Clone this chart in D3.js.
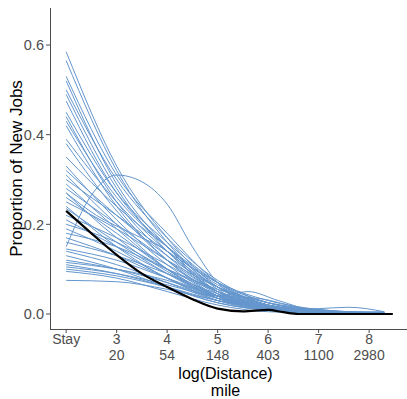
<!DOCTYPE html>
<html>
<head>
<meta charset="utf-8">
<script src="https://cdn.jsdelivr.net/npm/d3@7"></script>
<style>
  html, body { margin: 0; padding: 0; background: #fff; }
  text { font-family: "Liberation Sans", Arial, sans-serif; }
</style>
</head>
<body>
<div id="chart"></div>
<script>
// knots on the log(distance) axis, "Stay" sits at 2
const knots = [2, 3, 4, 5, 6, 7, 8];

// blue lines: value at each knot, plus where the line ends
const series = [
  [0.585, 0.33, 0.17, 0.06, 0.015, 0.004, 0.002],
  [0.565, 0.32, 0.16, 0.055, 0.012, 0.003, 0.002],
  [0.53, 0.31, 0.18, 0.07, 0.02, 0.006, 0.003],
  [0.52, 0.29, 0.15, 0.05, 0.01, 0.003, 0.001],
  [0.50, 0.30, 0.17, 0.075, 0.025, 0.008, 0.004],
  [0.49, 0.28, 0.14, 0.05, 0.012, 0.004, 0.002],
  [0.475, 0.27, 0.15, 0.06, 0.018, 0.005, 0.002],
  [0.45, 0.27, 0.16, 0.07, 0.02, 0.006, 0.003],
  [0.44, 0.25, 0.13, 0.05, 0.015, 0.004, 0.002],
  [0.43, 0.26, 0.15, 0.065, 0.02, 0.005, 0.002],
  [0.42, 0.24, 0.12, 0.04, 0.01, 0.003, 0.001],
  [0.39, 0.25, 0.14, 0.06, 0.02, 0.006, 0.003],
  [0.38, 0.23, 0.12, 0.045, 0.012, 0.004, 0.002],
  [0.35, 0.24, 0.15, 0.07, 0.025, 0.008, 0.004],
  [0.33, 0.21, 0.11, 0.04, 0.01, 0.003, 0.001],
  [0.32, 0.22, 0.13, 0.06, 0.02, 0.007, 0.003],
  [0.31, 0.20, 0.10, 0.035, 0.01, 0.004, 0.002],
  [0.30, 0.22, 0.14, 0.07, 0.03, 0.01, 0.004],
  [0.29, 0.19, 0.10, 0.04, 0.012, 0.003, 0.001],
  [0.28, 0.20, 0.12, 0.05, 0.015, 0.005, 0.002],
  [0.26, 0.18, 0.10, 0.04, 0.012, 0.004, 0.002],
  [0.25, 0.19, 0.12, 0.06, 0.025, 0.008, 0.003],
  [0.235, 0.16, 0.09, 0.035, 0.01, 0.003, 0.001],
  [0.22, 0.17, 0.11, 0.05, 0.018, 0.006, 0.003],
  [0.21, 0.15, 0.09, 0.04, 0.012, 0.004, 0.002],
  [0.20, 0.16, 0.10, 0.05, 0.02, 0.007, 0.003],
  [0.19, 0.14, 0.08, 0.03, 0.008, 0.002, 0.001],
  [0.18, 0.15, 0.10, 0.055, 0.025, 0.01, 0.004],
  [0.17, 0.13, 0.08, 0.035, 0.012, 0.004, 0.002],
  [0.16, 0.13, 0.09, 0.045, 0.018, 0.006, 0.002],
  [0.145, 0.12, 0.08, 0.04, 0.015, 0.005, 0.002],
  [0.14, 0.11, 0.07, 0.03, 0.01, 0.003, 0.001],
  [0.12, 0.10, 0.07, 0.035, 0.012, 0.004, 0.002],
  [0.115, 0.10, 0.075, 0.04, 0.018, 0.007, 0.003],
  [0.11, 0.09, 0.06, 0.025, 0.008, 0.002, 0.001],
  [0.105, 0.09, 0.065, 0.035, 0.014, 0.005, 0.002],
  [0.10, 0.085, 0.06, 0.03, 0.01, 0.003, 0.001],
  [0.095, 0.08, 0.05, 0.02, 0.005, 0.002, 0.001],
  [0.075, 0.072, 0.055, 0.03, 0.012, 0.004, 0.002]
];
const seriesEnd = [
  8.2, 8.0, 8.3, 8.1, 8.3, 7.9, 8.2, 8.3, 8.0, 8.2,
  7.8, 8.3, 8.1, 8.3, 8.0, 8.2, 7.9, 8.3, 8.1, 8.2,
  8.0, 8.3, 7.9, 8.2, 8.1, 8.3, 7.8, 8.3, 8.0, 8.2,
  8.1, 7.9, 8.2, 8.3, 8.0, 8.1, 7.9, 8.0, 8.2
];

// the odd-shaped blue lines (humps) have their own knots
const humpX = [
  [2, 2.5, 3, 3.5, 4, 4.5, 5, 5.5, 6, 7, 8, 8.2],
  [2, 2.6, 3.3, 4, 4.5, 5, 5.5, 6, 7, 8, 8.1],
  [2, 3, 4, 5, 5.6, 6.2, 7, 8, 8.3],
  [2, 3, 4, 5, 6, 7, 7.6, 8.3],
  [2, 3, 4, 5, 5.8, 6.4, 7, 8, 8.2]
];
const humpY = [
  [0.15, 0.265, 0.31, 0.295, 0.245, 0.15, 0.07, 0.03, 0.012, 0.004, 0.002, 0.002],
  [0.27, 0.22, 0.18, 0.14, 0.09, 0.045, 0.02, 0.008, 0.003, 0.001, 0.001],
  [0.24, 0.15, 0.08, 0.04, 0.05, 0.03, 0.006, 0.002, 0.002],
  [0.13, 0.10, 0.06, 0.025, 0.01, 0.012, 0.015, 0.005],
  [0.27, 0.17, 0.095, 0.04, 0.035, 0.02, 0.005, 0.002, 0.002]
];

// overall (black) line
const meanX = [2, 2.5, 3, 3.5, 4, 4.5, 5, 5.5, 6, 6.3, 6.6, 7, 8, 8.47];
const meanY = [0.23, 0.18, 0.132, 0.09, 0.06, 0.033, 0.012, 0.006, 0.009, 0.004, 0.0, 0.0, 0.0, 0.0];

const xTicks = [2, 3, 4, 5, 6, 7, 8];
const xTickTop = ['Stay', '3', '4', '5', '6', '7', '8'];
const xTickBottom = ['', '20', '54', '148', '403', '1100', '2980'];
const yTicks = [0.0, 0.2, 0.4, 0.6];

const W = 407, H = 399;
const panel = { left: 50, right: 409, top: 8, bottom: 329 };

const svg = d3.select('#chart').append('svg')
  .attr('width', W).attr('height', H);

const x = d3.scaleLinear().domain([1.68, 8.79]).range([panel.left, panel.right]);
const y = d3.scaleLinear().domain([-0.0335, 0.6826]).range([panel.bottom, panel.top]);

const line = d3.line()
  .x((d) => x(d[0]))
  .y((d) => y(d[1]))
  .curve(d3.curveMonotoneX);

const blue = '#6496cd';
const lineGroup = svg.append('g');

series.forEach((vals, i) => {
  const pts = knots.map((k, j) => [k, vals[j]]);
  pts.push([seriesEnd[i], vals[vals.length - 1]]);
  lineGroup.append('path')
    .attr('d', line(pts))
    .attr('fill', 'none')
    .attr('stroke', blue)
    .attr('stroke-width', 1);
});

humpX.forEach((xs, i) => {
  const pts = xs.map((k, j) => [k, humpY[i][j]]);
  lineGroup.append('path')
    .attr('d', line(pts))
    .attr('fill', 'none')
    .attr('stroke', blue)
    .attr('stroke-width', 1);
});

lineGroup.append('path')
  .attr('d', line(meanX.map((k, j) => [k, meanY[j]])))
  .attr('fill', 'none')
  .attr('stroke', '#000')
  .attr('stroke-width', 2.2);

// axes, drawn ggplot-classic style
const axisColor = '#4d4d4d';
svg.append('line')
  .attr('x1', panel.left + 0.5).attr('x2', panel.left + 0.5)
  .attr('y1', panel.top).attr('y2', panel.bottom)
  .attr('stroke', axisColor).attr('stroke-width', 1);
svg.append('line')
  .attr('x1', panel.left).attr('x2', panel.right)
  .attr('y1', panel.bottom + 0.5).attr('y2', panel.bottom + 0.5)
  .attr('stroke', axisColor).attr('stroke-width', 1);

const yAxis = svg.append('g');
yTicks.forEach((t) => {
  yAxis.append('line')
    .attr('x1', panel.left - 4).attr('x2', panel.left)
    .attr('y1', y(t)).attr('y2', y(t))
    .attr('stroke', axisColor);
  yAxis.append('text')
    .attr('x', panel.left - 6)
    .attr('y', y(t))
    .attr('dy', '0.36em')
    .attr('text-anchor', 'end')
    .attr('font-size', 14.5)
    .attr('fill', axisColor)
    .text(d3.format('.1f')(t));
});

const xAxis = svg.append('g');
xTicks.forEach((t, i) => {
  xAxis.append('line')
    .attr('x1', x(t)).attr('x2', x(t))
    .attr('y1', panel.bottom).attr('y2', panel.bottom + 4)
    .attr('stroke', axisColor);
  xAxis.append('text')
    .attr('x', x(t)).attr('y', 344)
    .attr('text-anchor', 'middle')
    .attr('font-size', 14)
    .attr('fill', axisColor)
    .text(xTickTop[i]);
  xAxis.append('text')
    .attr('x', x(t)).attr('y', 360)
    .attr('text-anchor', 'middle')
    .attr('font-size', 14)
    .attr('fill', axisColor)
    .text(xTickBottom[i]);
});

const midX = (panel.left + panel.right) / 2;
svg.append('text')
  .attr('x', midX - 4).attr('y', 379)
  .attr('text-anchor', 'middle')
  .attr('font-size', 16)
  .attr('fill', '#000')
  .text('log(Distance)');
svg.append('text')
  .attr('x', midX - 4).attr('y', 396)
  .attr('text-anchor', 'middle')
  .attr('font-size', 16)
  .attr('fill', '#000')
  .text('mile');

svg.append('text')
  .attr('transform', `translate(22,${(panel.top + panel.bottom) / 2}) rotate(-90)`)
  .attr('text-anchor', 'middle')
  .attr('font-size', 17)
  .attr('fill', '#000')
  .text('Proportion of New Jobs');
</script>
</body>
</html>
